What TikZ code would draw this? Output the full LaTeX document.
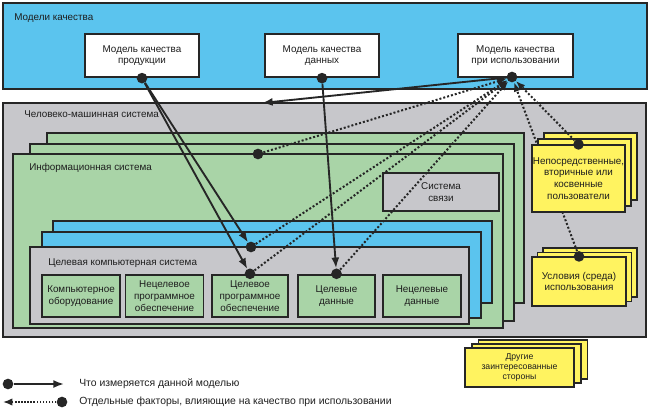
\documentclass[tikz,border=0pt]{standalone}
\usepackage{fontspec}
\setmainfont{Liberation Sans}
\setsansfont{Liberation Sans}
\usetikzlibrary{arrows.meta,shadows}
\definecolor{qualblue}{HTML}{5BC4EE}
\definecolor{qualgreen}{HTML}{A9D4A7}
\definecolor{qualgray}{HTML}{C7C7CB}
\definecolor{qualyellow}{HTML}{FFF360}
\definecolor{qualline}{HTML}{262626}
\definecolor{qualink}{HTML}{1E1E1E}

\begin{document}
\begin{tikzpicture}[x=.75pt, y=-.75pt,
    font=\fontsize{7.4pt}{8.8pt}\selectfont, text=qualink,
    boxsize/.style 2 args={minimum width=#1*.75pt, minimum height=#2*.75pt,
      inner sep=0pt, align=center},
    band/.style={draw=qualline, line width=.9pt, fill=qualblue},
    hmsarea/.style={draw=qualline, line width=.9pt, fill=qualgray},
    infolayer/.style={draw=qualline, line width=.9pt, fill=qualgreen},
    tgtlayer/.style={draw=qualline, line width=.9pt, fill=qualblue},
    tgtsys/.style={draw=qualline, line width=1.8pt, fill=qualgray},
    model/.style={draw=qualline, line width=1.7pt, fill=white},
    part/.style={draw=qualline, line width=.9pt, fill=qualgreen},
    keypart/.style={part, line width=1.8pt},
    commbox/.style={draw=qualline, line width=.9pt, fill=qualgray},
    stakeholder/.style={draw=qualline, line width=.9pt, fill=qualyellow},
    area/.style={anchor=west, inner sep=0pt},
    dot/.style={circle, fill=qualline, minimum size=8pt, inner sep=0pt},
    measure/.style={-{Latex[length=8pt,width=6pt]}, line width=1.4pt,
      color=qualline},
    factor/.style={-{Latex[length=7pt,width=5.5pt]}, line width=1.5pt,
      color=qualline, dash pattern=on 1.5pt off 1.5pt}
  ]
  \useasboundingbox (0,0) rectangle (650,414);

  % quality models
  \draw[band] (3,3) rectangle (647,89);
  \node[area] (lblModels) at (14,18) {Модели качества};
  \node[model, boxsize={114}{43}] (mProd) at (142,55.5)
    {Модель качества\\продукции};
  \node[model, boxsize={114}{43}] (mData) at (322,55.5)
    {Модель качества\\данных};
  \node[model, boxsize={115}{43}] (mUse) at (515.5,55.5)
    {Модель качества\\при использовании};
  \node[dot] (dProd) at (mProd.south) {};
  \node[dot] (dData) at (mData.south) {};
  \node[dot] (dUse) at (512,77) {};

  % human-machine system
  \draw[hmsarea] (3,103) rectangle (646,337);
  \node[area] (lblHms) at (24,114) {Человеко-машинная система};
  \coordinate (hmsTop) at (262,103);

  \draw[infolayer] (47,133) rectangle (524,303);
  \draw[infolayer] (30,144) rectangle (514,321);
  \draw[infolayer] (13,154) rectangle (503,328);
  \node[area] (lblInfo) at (29,168) {Информационная система};
  \node[commbox, boxsize={116}{38}] (comm) at (441,192) {Система\\связи};

  \draw[tgtlayer] (53,221) rectangle (492,303);
  \draw[tgtlayer] (42,232) rectangle (481,318);
  \draw[tgtsys] (30,247) rectangle (469,324);
  \node[area] (lblTarget) at (48,263) {Целевая компьютерная система};

  \node[part, boxsize={78}{42}] (hw) at (81,296)
    {Компьютерное\\оборудование};
  \node[part, boxsize={78}{42}] (othSw) at (164.5,296)
    {Нецелевое\\программное\\обеспечение};
  \node[keypart, boxsize={76}{42}] (tgtSw) at (250,296)
    {Целевое\\программное\\обеспечение};
  \node[keypart, boxsize={77}{42}] (tgtData) at (336.5,296)
    {Целевые\\данные};
  \node[part, boxsize={78}{42}] (othData) at (422,296)
    {Нецелевые\\данные};

  % stakeholders
  \node[stakeholder, boxsize={94}{49},
    double copy shadow={shadow xshift=4.1pt, shadow yshift=3.4pt}]
    (cond) at (579,281.5) {Условия (среда)\\использования};
  \node[dot] (dCond) at (cond.north) {};
  \draw[factor] (dCond) -- (dUse);

  \node[stakeholder, boxsize={93}{67},
    double copy shadow={shadow xshift=4.5pt, shadow yshift=4.5pt}]
    (users) at (578.5,178.5)
    {Непосредственные,\\вторичные или\\косвенные\\пользователи};
  \node[stakeholder, boxsize={109}{39},
    font=\fontsize{6.5pt}{7.6pt}\selectfont,
    double copy shadow={shadow xshift=5.2pt, shadow yshift=3pt}]
    (others) at (519.5,367.5) {Другие\\заинтересованные\\стороны};

  \node[dot] (dInfo) at (258,154) {};
  \node[dot] (dTarget) at (251,247) {};
  \node[dot] (dTgtSw) at (tgtSw.north) {};
  \node[dot] (dTgtData) at (tgtData.north) {};
  \node[dot] (dUsers) at (users.north) {};

  % what each model measures
  \draw[measure] (dProd) -- (dTarget);
  \draw[measure] (dProd) -- (dTgtSw);
  \draw[measure] (dData) -- (dTgtData);
  \draw[measure] (dUse) -- (hmsTop);

  % factors of quality in use
  \draw[factor] (dInfo) -- (dUse);
  \draw[factor] (dTarget) -- (dUse);
  \draw[factor] (dTgtSw) -- (dUse);
  \draw[factor] (dTgtData) -- (dUse);
  \draw[factor] (dUsers) -- (dUse);

  % legend
  \node[dot] (lgMeasure) at (8,384) {};
  \coordinate (lgMeasureEnd) at (64,384);
  \draw[measure] (lgMeasure) -- (lgMeasureEnd);
  \node[area, font=\fontsize{7.8pt}{9pt}\selectfont] (lgMeasureText)
    at (79,384) {Что измеряется данной моделью};
  \node[dot] (lgFactor) at (62,402) {};
  \coordinate (lgFactorEnd) at (3,402);
  \draw[factor, line width=1.1pt, dash pattern=on 1.1pt off 1.2pt]
    (lgFactor) -- (lgFactorEnd);
  \node[area, font=\fontsize{7.8pt}{9pt}\selectfont] (lgFactorText)
    at (79,402) {Отдельные факторы, влияющие на качество при использовании};
\end{tikzpicture}
\end{document}
